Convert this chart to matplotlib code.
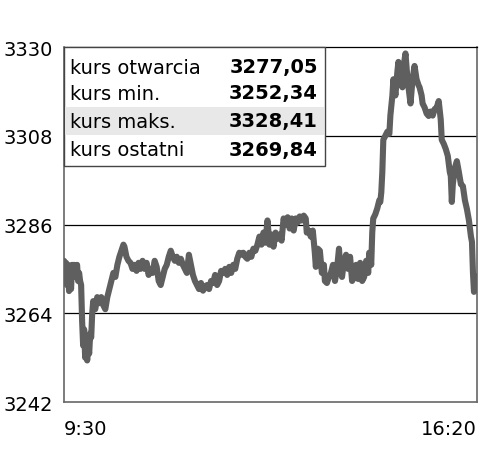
import matplotlib
matplotlib.use("Agg")
import matplotlib.pyplot as plt
from matplotlib.patches import Rectangle

# minutes after 9:30 and index level (WIG-like intraday)
minutes = [0, 1, 2, 3, 4, 5, 6, 7, 8, 9, 10, 11, 13, 14, 15, 16, 17, 18, 19, 20,
           21, 22, 23, 24, 25, 26, 27, 28, 29, 30, 31, 33, 35, 37, 39, 41, 43, 45, 47, 49,
           51, 53, 55, 57, 59, 60, 62, 64, 66, 68, 70, 72, 74, 76, 78, 80, 82, 84, 86, 88,
           90, 92, 94, 96, 98, 100, 102, 104, 106, 108, 110, 112, 114, 116, 118, 120, 122, 124, 126, 128,
           130, 132, 134, 136, 138, 140, 142, 144, 146, 148, 150, 152, 154, 156, 158, 160, 162, 164, 166, 168,
           170, 172, 174, 176, 178, 180, 182, 184, 186, 188, 190, 192, 194, 196, 198, 200, 202, 204, 206, 208,
           210, 212, 214, 216, 218, 220, 222, 224, 226, 228, 230, 232, 234, 236, 238, 240, 241, 243, 245, 247,
           249, 250, 252, 254, 256, 258, 259, 261, 263, 265, 267, 269, 271, 273, 274, 276, 278, 280, 282, 284,
           286, 288, 290, 292, 294, 296, 298, 300, 302, 303, 305, 306, 307, 309, 311, 313, 314, 315, 316, 317,
           319, 321, 323, 324, 326, 327, 329, 331, 332, 334, 336, 337, 339, 341, 343, 344, 346, 348, 350, 352,
           353, 355, 356, 358, 360, 362, 364, 366, 368, 370, 372, 374, 375, 377, 379, 381, 383, 384, 385, 386,
           388, 390, 392, 394, 396, 398, 400, 402, 404, 405, 406, 407, 408, 409, 410]
values = [3277, 3275, 3276.5, 3271, 3276, 3269.5, 3273, 3270, 3276, 3273, 3276, 3275, 3276, 3272, 3274, 3272, 3271, 3262, 3256, 3260,
          3253, 3257, 3252.3, 3256, 3254, 3259, 3258, 3264, 3267, 3266, 3265, 3268, 3266.5, 3268, 3266, 3265, 3268, 3270, 3272, 3274,
          3273, 3276, 3278, 3279.5, 3281, 3280.5, 3278, 3277, 3276.5, 3275, 3276, 3274.5, 3276.5, 3275, 3277, 3275, 3276.5, 3273.5, 3275, 3274,
          3277, 3275.5, 3272, 3271, 3273, 3275, 3276, 3278, 3279.5, 3278, 3277, 3278, 3276.5, 3277.5, 3276, 3275, 3274, 3278.5, 3276, 3273.5,
          3272, 3271, 3270, 3271.5, 3269.6, 3270.5, 3271, 3270, 3272, 3271.5, 3273.5, 3271, 3272, 3274.5, 3274, 3275, 3273.5, 3275.5, 3274, 3276,
          3275, 3277.5, 3279, 3278.5, 3279, 3278, 3277.5, 3279, 3278, 3280, 3279.5, 3281, 3283, 3281, 3284, 3281.5, 3287, 3281, 3283.5, 3280.5,
          3284, 3282.5, 3283.5, 3282, 3287.5, 3286, 3287.8, 3285, 3287.5, 3284.5, 3287.5, 3286.5, 3288, 3287, 3288.2, 3287.5, 3284, 3284.5, 3283, 3284.5,
          3279, 3275.5, 3280, 3279.5, 3274, 3276, 3272, 3271.5, 3273, 3274, 3276, 3272, 3275, 3280, 3276, 3273, 3277, 3278.5, 3275, 3278,
          3272, 3273, 3276, 3272.5, 3276.5, 3272, 3273, 3277, 3274, 3279, 3276, 3284, 3287.5, 3288.5, 3290, 3292, 3291.6, 3294, 3299, 3307,
          3308, 3309, 3308.5, 3313, 3318, 3322, 3318, 3324, 3326.3, 3321, 3320, 3325, 3328.4, 3322, 3318, 3316, 3322, 3325.3, 3322, 3320.5,
          3320, 3318, 3316, 3315, 3313.5, 3312.9, 3314, 3313, 3314.6, 3315, 3316.6, 3312, 3307, 3306, 3304.7, 3303, 3299, 3298, 3291.6, 3296,
          3300, 3301.7, 3299, 3296, 3295.5, 3292, 3289.8, 3287, 3283, 3281.7, 3274, 3269.3, 3271, 3273.2, 3269.84]

y_ticks = [3242, 3264, 3286, 3308, 3330]
x_ticks = [0, 410]
x_labels = ["9:30", "16:20"]

table_labels = ["kurs otwarcia", "kurs min.", "kurs maks.", "kurs ostatni"]
table_values = ["3277,05", "3252,34", "3328,41", "3269,84"]

W, H = 500, 456
fig = plt.figure(figsize=(W / 100, H / 100), dpi=100)
ax = fig.add_axes([64 / W, 1 - 403 / H, (477 - 64) / W, (403 - 48) / H])

ax.plot(minutes, values, color="#5f5f5f", lw=4.4, solid_joinstyle="round",
        solid_capstyle="round", zorder=3)

ax.set_xlim(0, 410)
ax.set_ylim(3242, 3330)
ax.set_yticks(y_ticks)
ax.set_yticklabels([str(v) for v in y_ticks], fontsize=14)
ax.set_xticks(x_ticks)
ax.set_xticklabels(x_labels, fontsize=14)
ax.get_xticklabels()[0].set_ha("left")
ax.get_xticklabels()[1].set_ha("right")
ax.tick_params(length=0, pad=8)
ax.tick_params(axis="x", pad=12)
for y in y_ticks[1:4]:
    ax.axhline(y, color="black", lw=0.9, zorder=1)
for s in ["left", "bottom", "right"]:
    ax.spines[s].set_color("#666666")
    ax.spines[s].set_linewidth(1.2)
ax.spines["top"].set_color("black")
ax.spines["top"].set_linewidth(0.9)

# summary table in the top-left corner
def fx(x):
    return x / W

def fy(y):
    return 1 - y / H

box = Rectangle((fx(64), fy(167)), fx(325) - fx(64), fy(48) - fy(167),
                transform=fig.transFigure, facecolor="white", edgecolor="#444444",
                lw=1.0, zorder=5)
fig.add_artist(box)
shade = Rectangle((fx(65), fy(136)), fx(324) - fx(65), fy(108) - fy(136),
                  transform=fig.transFigure, facecolor="#e8e8e8", edgecolor="none",
                  zorder=6)
fig.add_artist(shade)
row_y = [68, 94, 122, 151]
for lab, val, ry in zip(table_labels, table_values, row_y):
    fig.text(fx(70), fy(ry), lab, fontsize=14, va="center", ha="left", zorder=7)
    fig.text(fx(318), fy(ry), val, fontsize=14, fontweight="bold", va="center",
             ha="right", zorder=7)

fig.savefig("out.png", dpi=100)
